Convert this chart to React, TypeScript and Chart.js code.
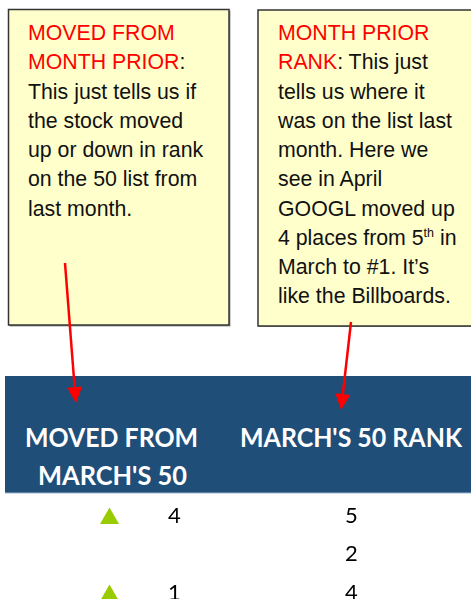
import React, { useEffect, useRef } from "react";
import { Chart, registerables } from "chart.js";

Chart.register(...registerables);

// ---------- data ----------
const MOVED_DIRECTION: (string | null)[] = ["up", null, "up"];
const MOVED_FROM_MARCH: (number | null)[] = [4, null, 1];
const MARCH_RANK: number[] = [5, 2, 4];

const HEADER_MOVED_LINES = ["MOVED FROM", "MARCH'S 50"];
const HEADER_RANK = "MARCH'S 50 RANK";

type Seg = { t: string; red?: boolean; sup?: boolean };
const NOTE_LEFT: Seg[][] = [
  [{ t: "MOVED FROM", red: true }],
  [{ t: "MONTH PRIOR", red: true }, { t: ":" }],
  [{ t: "This just tells us if" }],
  [{ t: "the stock moved" }],
  [{ t: "up or down in rank" }],
  [{ t: "on the 50 list from" }],
  [{ t: "last month." }],
];
const NOTE_RIGHT: Seg[][] = [
  [{ t: "MONTH PRIOR", red: true }],
  [{ t: "RANK", red: true }, { t: ": This just" }],
  [{ t: "tells us where it" }],
  [{ t: "was on the list last" }],
  [{ t: "month. Here we" }],
  [{ t: "see in April" }],
  [{ t: "GOOGL moved up" }],
  [{ t: "4 places from 5" }, { t: "th", sup: true }, { t: " in" }],
  [{ t: "March to #1. It\u2019s" }],
  [{ t: "like the Billboards." }],
];

// ---------- layout (positions / styles) ----------
const COL_X = { arrow: 109.5, moved: 174.5, rank: 351.5 };
const NOTE_FONT = "'Liberation Sans', Arial, sans-serif";
const HEAD_FONT = "Lato, 'Open Sans', sans-serif";

const cellTextPlugin = {
  id: "cellText",
  afterDatasetsDraw(chart: any) {
    const ctx = chart.ctx;
    chart.data.datasets.forEach((ds: any, di: number) => {
      if (!ds.showText) return;
      const meta = chart.getDatasetMeta(di);
      meta.data.forEach((el: any, i: number) => {
        const raw = ds.data[i];
        if (!raw || raw.v == null) return;
        ctx.save();
        ctx.font = "22px Lato, 'Open Sans', sans-serif";
        ctx.fillStyle = "#000";
        ctx.textAlign = "center";
        ctx.textBaseline = "alphabetic";
        ctx.fillText(String(raw.v), el.x, el.y + 4.5);
        ctx.restore();
      });
    });
  },
};

function arrowHead(x1: number, y1: number, x2: number, y2: number, len = 16, half = 7.5) {
  const dx = x2 - x1, dy = y2 - y1;
  const L = Math.hypot(dx, dy);
  const ux = dx / L, uy = dy / L;
  const bx = x2 - ux * len, by = y2 - uy * len;
  const px = -uy * half, py = ux * half;
  return `${x2},${y2} ${bx + px},${by + py} ${bx - px},${by - py}`;
}

function Note({ x, lines }: { x: number; lines: Seg[][] }) {
  return (
    <text style={{ fontFamily: NOTE_FONT, fontSize: 21.3 }}>
      {lines.map((line, li) => (
        <tspan key={li} x={x} y={40 + li * 29.25}>
          {line.map((s, si) =>
            s.sup ? (
              <tspan key={si} fill="#111" fontSize={12.5} dy={-8}>
                {s.t}
              </tspan>
            ) : (
              <tspan
                key={si}
                fill={s.red ? "#FF0000" : "#111"}
                dy={si > 0 && line[si - 1].sup ? 8 : 0}
              >
                {s.t}
              </tspan>
            )
          )}
        </tspan>
      ))}
    </text>
  );
}

export default function App() {
  const canvasRef = useRef<HTMLCanvasElement | null>(null);

  useEffect(() => {
    if (!canvasRef.current) return;
    const rows = MARCH_RANK.map((_, i) => i);
    const chart = new Chart(canvasRef.current, {
      type: "scatter",
      data: {
        datasets: [
          {
            label: "direction",
            data: rows
              .filter((i) => MOVED_DIRECTION[i] === "up")
              .map((i) => ({ x: COL_X.arrow, y: i })),
            pointStyle: "triangle",
            pointRadius: 11,
            pointBackgroundColor: "#99CC00",
            pointBorderWidth: 0,
            pointBorderColor: "#99CC00",
          } as any,
          {
            label: "moved",
            data: rows
              .filter((i) => MOVED_FROM_MARCH[i] != null)
              .map((i) => ({ x: COL_X.moved, y: i, v: MOVED_FROM_MARCH[i] })),
            pointRadius: 0,
            showText: true,
          } as any,
          {
            label: "rank",
            data: rows.map((i) => ({ x: COL_X.rank, y: i, v: MARCH_RANK[i] })),
            pointRadius: 0,
            showText: true,
          } as any,
        ],
      },
      options: {
        animation: false,
        responsive: false,
        maintainAspectRatio: false,
        layout: { padding: 0, autoPadding: false },
        plugins: { legend: { display: false }, tooltip: { enabled: false } },
        events: [],
        scales: {
          x: { type: "linear", min: 0, max: 471, display: false },
          y: { type: "linear", min: -0.662, max: 2.091, reverse: true, display: false },
        },
      },
      plugins: [cellTextPlugin],
    });
    let alive = true;
    (document as any).fonts?.load?.("22px Lato").then(() => {
      if (alive) chart.update();
    });
    return () => {
      alive = false;
      chart.destroy();
    };
  }, []);

  return (
    <div
      style={{
        position: "absolute",
        left: 0,
        top: 0,
        width: 471,
        height: 599,
        overflow: "hidden",
        background: "#fff",
      }}
    >
      <svg
        width={471}
        height={599}
        style={{ position: "absolute", left: 0, top: 0 }}
      >
        {/* annotation boxes */}
        <rect x={9.5} y={10.5} width={221} height={316} fill="#9a9a9a" />
        <rect x={8.5} y={9.5} width={220.5} height={315.5} fill="#FFFFCC" stroke="#333" strokeWidth={1.5} />
        <rect x={259} y={11} width={240} height={316} fill="#9a9a9a" />
        <rect x={258} y={10} width={240} height={316} fill="#FFFFCC" stroke="#333" strokeWidth={1.5} />
        <Note x={28} lines={NOTE_LEFT} />
        <Note x={278} lines={NOTE_RIGHT} />

        {/* header band */}
        <rect x={5} y={376} width={466} height={117} fill="#1F4E79" />
        <rect x={5} y={492.5} width={466} height={1} fill="#9DB5D3" />
        <g style={{ fontFamily: HEAD_FONT, fontWeight: 700, fontSize: 26 }} fill="#FFFFFF">
          <text x={111.5} y={447} textAnchor="middle" textLength={173} lengthAdjust="spacingAndGlyphs">
            {HEADER_MOVED_LINES[0]}
          </text>
          <text x={112.5} y={485} textAnchor="middle" textLength={149} lengthAdjust="spacingAndGlyphs">
            {HEADER_MOVED_LINES[1]}
          </text>
          <text x={351} y={447} textAnchor="middle" textLength={222} lengthAdjust="spacingAndGlyphs">
            {HEADER_RANK}
          </text>
        </g>

        {/* arrows */}
        <line x1={65} y1={263} x2={75} y2={392} stroke="#FF0000" strokeWidth={2.5} />
        <polygon points={arrowHead(65, 263, 76, 403)} fill="#FF0000" />
        <line x1={351} y1={322} x2={342.4} y2={398} stroke="#FF0000" strokeWidth={2.5} />
        <polygon points={arrowHead(351, 322, 341, 410)} fill="#FF0000" />
      </svg>
      <div style={{ position: "absolute", left: 0, top: 493, width: 471, height: 106 }}>
        <canvas ref={canvasRef} width={471} height={106} style={{ display: "block", width: 471, height: 106 }} />
      </div>
    </div>
  );
}
